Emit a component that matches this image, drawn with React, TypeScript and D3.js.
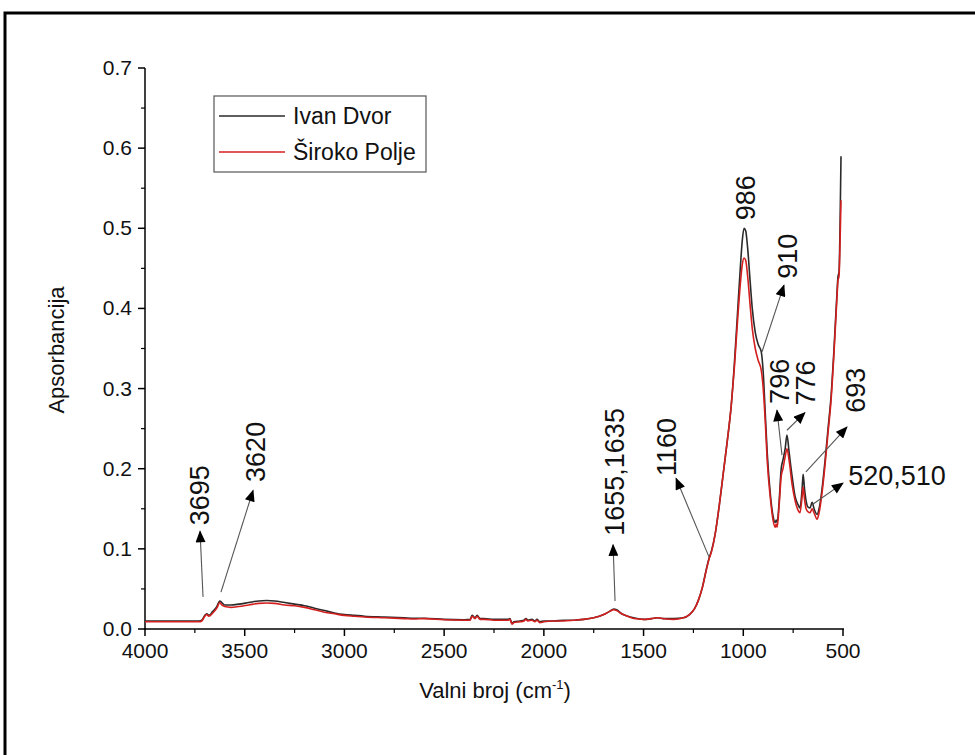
import React from "react";
import * as d3 from "d3";

// ---- Data ----
const WAVENUMBERS = [
  4000, 3900, 3800, 3730, 3715, 3700, 3690, 3680, 3660, 3640, 3625, 3615, 3600, 3570, 3530, 3480, 3430, 3390, 3350, 3300,
  3250, 3200, 3150, 3100, 3050, 3000, 2950, 2900, 2800, 2700, 2650, 2600, 2500, 2400, 2370, 2360, 2345, 2335, 2320, 2300,
  2250, 2180, 2170, 2160, 2150, 2120, 2100, 2090, 2080, 2060, 2045, 2035, 2020, 2000, 1950, 1900, 1850, 1800, 1750, 1700,
  1670, 1650, 1635, 1610, 1580, 1550, 1500, 1460, 1430, 1400, 1350, 1300, 1270, 1245, 1225, 1205, 1185, 1172, 1160, 1140,
  1120, 1100, 1080, 1060, 1045, 1030, 1015, 1005, 996, 988, 978, 966, 955, 940, 925, 910, 900, 890, 880, 865,
  850, 840, 835, 830, 820, 810, 801, 790, 781, 770, 755, 740, 725, 716, 705, 700, 693, 685, 675, 665,
  655, 645, 630, 620, 605, 590, 575, 560, 545, 530, 525, 520, 515, 510,
];
const IVAN_DVOR = [
  0.010, 0.010, 0.010, 0.010, 0.011, 0.017, 0.019, 0.017, 0.022, 0.028, 0.035, 0.033, 0.030, 0.030, 0.031, 0.033, 0.035, 0.0355, 0.035, 0.033,
  0.031, 0.029, 0.026, 0.023, 0.020, 0.018, 0.017, 0.016, 0.015, 0.014, 0.0135, 0.0135, 0.012, 0.0115, 0.012, 0.017, 0.014, 0.017, 0.013, 0.013,
  0.012, 0.012, 0.013, 0.007, 0.009, 0.010, 0.011, 0.013, 0.011, 0.012, 0.010, 0.012, 0.009, 0.010, 0.010, 0.011, 0.011, 0.012, 0.014, 0.018,
  0.022, 0.025, 0.024, 0.019, 0.016, 0.014, 0.012, 0.013, 0.014, 0.013, 0.013, 0.014, 0.018, 0.025, 0.036, 0.052, 0.075, 0.088, 0.097, 0.12,
  0.155, 0.195, 0.235, 0.28, 0.33, 0.39, 0.45, 0.485, 0.5, 0.497, 0.475, 0.435, 0.4, 0.37, 0.355, 0.346, 0.32, 0.27, 0.22, 0.17,
  0.14, 0.133, 0.136, 0.133, 0.16, 0.2, 0.211, 0.225, 0.242, 0.22, 0.19, 0.165, 0.155, 0.151, 0.175, 0.193, 0.175, 0.16, 0.152, 0.151,
  0.158, 0.15, 0.143, 0.15, 0.175, 0.21, 0.25, 0.29, 0.35, 0.42, 0.44, 0.445, 0.5, 0.59,
];
const SIROKO_POLJE = [
  0.009, 0.009, 0.009, 0.009, 0.010, 0.016, 0.018, 0.016, 0.020, 0.026, 0.033, 0.030, 0.028, 0.027, 0.028, 0.030, 0.032, 0.0325, 0.032, 0.030,
  0.029, 0.027, 0.024, 0.021, 0.019, 0.017, 0.016, 0.015, 0.014, 0.013, 0.0125, 0.013, 0.0115, 0.011, 0.011, 0.016, 0.013, 0.016, 0.012, 0.012,
  0.011, 0.011, 0.012, 0.006, 0.008, 0.009, 0.010, 0.012, 0.010, 0.011, 0.009, 0.011, 0.008, 0.009, 0.010, 0.010, 0.011, 0.012, 0.014, 0.018,
  0.022, 0.024, 0.023, 0.019, 0.016, 0.013, 0.012, 0.013, 0.014, 0.013, 0.012, 0.014, 0.018, 0.025, 0.036, 0.052, 0.074, 0.087, 0.096, 0.12,
  0.155, 0.195, 0.235, 0.28, 0.325, 0.38, 0.43, 0.455, 0.463, 0.46, 0.44, 0.405, 0.375, 0.35, 0.335, 0.323, 0.3, 0.26, 0.21, 0.165,
  0.135, 0.127, 0.131, 0.127, 0.155, 0.19, 0.2, 0.215, 0.225, 0.21, 0.18, 0.16, 0.148, 0.145, 0.165, 0.177, 0.162, 0.15, 0.146, 0.145,
  0.15, 0.145, 0.137, 0.145, 0.17, 0.205, 0.245, 0.285, 0.345, 0.415, 0.435, 0.44, 0.48, 0.535,
];
const SERIES_NAMES = ["Ivan Dvor", "Široko Polje"];
const X_TICKS = [4000, 3500, 3000, 2500, 2000, 1500, 1000, 500];
const X_MINOR = [3750, 3250, 2750, 2250, 1750, 1250, 750];
const Y_TICKS = [0, 0.1, 0.2, 0.3, 0.4, 0.5, 0.6, 0.7];
const Y_MINOR = [0.05, 0.15, 0.25, 0.35, 0.45, 0.55, 0.65];

// Peak annotations (positions in data units: wavenumber, absorbance)
const ANN_LABELS = ["3695", "3620", "1655,1635", "1160", "986", "910", "796", "776", "693", "520,510"];
const ANN_LABEL_AT = [
  [3724, 0.167], [3448, 0.221], [1648, 0.196], [1383, 0.227], [991, 0.538],
  [776, 0.465], [816, 0.309], [686, 0.307], [435, 0.298], [229, 0.192],
];
const ANN_ROTATED = [true, true, true, true, true, true, true, true, true, false];
const ANN_FROM = [
  [3709, 0.04], [3619, 0.046], [1643, 0.035], [1172, 0.09], null,
  [906, 0.346], [806, 0.217], [781, 0.248], [686, 0.196], [655, 0.155],
];
const ANN_TO = [
  [3724, 0.122], [3458, 0.173], [1653, 0.105], [1337, 0.188], null,
  [796, 0.429], [831, 0.273], [691, 0.27], [480, 0.252], [500, 0.182],
];

const W = 975;
const H = 755;
const M = { left: 145, right: 843, top: 68, bottom: 629 };
const FONT = "'Liberation Sans', Arial, sans-serif";

export default function App() {
  const x = d3.scaleLinear().domain([4000, 500]).range([M.left, M.right]);
  const y = d3.scaleLinear().domain([0, 0.7]).range([M.bottom, M.top]);

  const line = d3
    .line<[number, number]>()
    .x((d) => x(d[0]))
    .y((d) => y(d[1]))
    .curve(d3.curveMonotoneX);

  const blackPts = WAVENUMBERS.map((w, i) => [w, IVAN_DVOR[i]] as [number, number]);
  const redPts = WAVENUMBERS.map((w, i) => [w, SIROKO_POLJE[i]] as [number, number]);

  const colors = ["#2a2a2a", "#d41f1f"];

  return (
    <svg
      width={W}
      height={H}
      style={{ position: "absolute", left: 0, top: 0, background: "#fff" }}
      fontFamily={FONT}
    >
      <defs>
        <marker id="ah2" viewBox="0 0 12 10" refX="11" refY="5" markerWidth="13" markerHeight="10" markerUnits="userSpaceOnUse" orient="auto">
          <path d="M0,0 L12,5 L0,10 z" fill="#000" />
        </marker>
      </defs>
      <rect x={0} y={0} width={W} height={H} fill="#fff" />
      {/* outer frame */}
      <path d={`M5,${H + 10} V13 H${W + 10}`} fill="none" stroke="#000" strokeWidth={3} />

      {/* axes */}
      <line x1={M.left} x2={M.left} y1={M.top} y2={M.bottom + 1} stroke="#000" strokeWidth={1.5} />
      <line x1={M.left - 1} x2={M.right + 1} y1={M.bottom} y2={M.bottom} stroke="#000" strokeWidth={1.5} />
      {Y_TICKS.map((t) => (
        <g key={"yt" + t}>
          <line x1={M.left - 7} x2={M.left} y1={y(t)} y2={y(t)} stroke="#000" strokeWidth={1.5} />
          <text x={M.left - 13} y={y(t) + 7} textAnchor="end" fontSize={21} fill="#111">
            {t.toFixed(1)}
          </text>
        </g>
      ))}
      {Y_MINOR.map((t) => (
        <line key={"ym" + t} x1={M.left - 4} x2={M.left} y1={y(t)} y2={y(t)} stroke="#000" strokeWidth={1.2} />
      ))}
      {X_TICKS.map((t) => (
        <g key={"xt" + t}>
          <line x1={x(t)} x2={x(t)} y1={M.bottom} y2={M.bottom + 7} stroke="#000" strokeWidth={1.5} />
          <text x={x(t)} y={M.bottom + 29} textAnchor="middle" fontSize={21} fill="#111">
            {t}
          </text>
        </g>
      ))}
      {X_MINOR.map((t) => (
        <line key={"xm" + t} x1={x(t)} x2={x(t)} y1={M.bottom} y2={M.bottom + 4} stroke="#000" strokeWidth={1.2} />
      ))}

      {/* axis titles */}
      <text x={495} y={698} textAnchor="middle" fontSize={22} fill="#111">
        Valni broj (cm
        <tspan fontSize={13} dy={-9}>-1</tspan>
        <tspan dy={9}>)</tspan>
      </text>
      <text transform="translate(56,350) rotate(-90)" textAnchor="middle" dy="0.35em" fontSize={22} fill="#111">
        Apsorbancija
      </text>

      {/* spectra */}
      <path d={line(blackPts) || ""} fill="none" stroke={colors[0]} strokeWidth={1.6} />
      <path d={line(redPts) || ""} fill="none" stroke={colors[1]} strokeWidth={1.6} />

      {/* annotations */}
      {ANN_LABELS.map((lab, i) => {
        const [lw, la] = ANN_LABEL_AT[i];
        const lx = x(lw);
        const ly = y(la);
        const from = ANN_FROM[i];
        const to = ANN_TO[i];
        return (
          <g key={"ann" + i}>
            {from && to && (
              <line
                x1={x(from[0])}
                y1={y(from[1])}
                x2={x(to[0])}
                y2={y(to[1])}
                stroke="#555"
                strokeWidth={1.1}
                markerEnd="url(#ah2)"
              />
            )}
            {ANN_ROTATED[i] ? (
              <text transform={`translate(${lx},${ly}) rotate(-90)`} textAnchor="middle" dy="0.35em" fontSize={27} fill="#111">
                {lab}
              </text>
            ) : (
              <text x={lx} y={ly} textAnchor="middle" dy="0.35em" fontSize={27} fill="#111">
                {lab}
              </text>
            )}
          </g>
        );
      })}

      {/* legend */}
      <rect x={214} y={96} width={212} height={76} fill="#fff" stroke="#555" strokeWidth={1.2} />
      {SERIES_NAMES.map((n, i) => (
        <g key={"lg" + i}>
          <line x1={219} x2={285} y1={116 + i * 36} y2={116 + i * 36} stroke={colors[i]} strokeWidth={1.4} />
          <text x={293} y={116 + i * 36} dy="0.35em" fontSize={23} fill="#111">
            {n}
          </text>
        </g>
      ))}
    </svg>
  );
}
